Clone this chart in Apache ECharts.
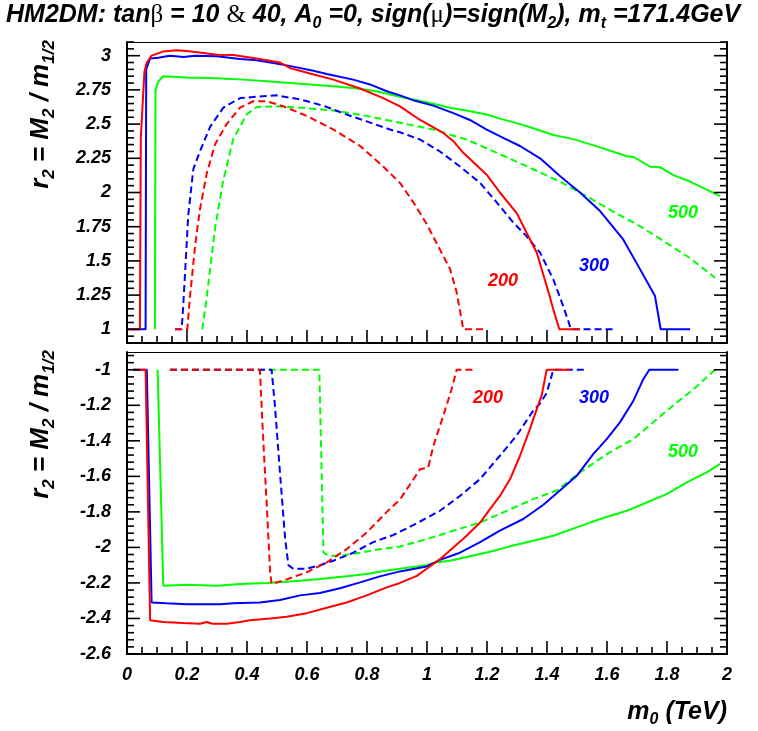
<!DOCTYPE html>
<html><head><meta charset="utf-8">
<script src="https://cdn.jsdelivr.net/npm/echarts@6/dist/echarts.min.js"></script>
<style>html,body{margin:0;padding:0;background:#fff}#c{width:758px;height:731px}</style>
</head><body><div id="c"></div>
<script>
const FONT = '"Liberation Sans", Arial, Helvetica, sans-serif';
const RED = '#ff0000', BLUE = '#0000ff', GREEN = '#00ff00';

// tick labels
const xTickLabels = [0, 0.2, 0.4, 0.6, 0.8, 1, 1.2, 1.4, 1.6, 1.8, 2];
const topYTicks = [1, 1.25, 1.5, 1.75, 2, 2.25, 2.5, 2.75, 3];
const botYTicks = [-2.6, -2.4, -2.2, -2, -1.8, -1.6, -1.4, -1.2, -1];

// ---- top panel (r2 > 0): solid = tanβ=10, dashed = tanβ=40 ; m1/2 = 200/300/500
const topSolid200 = [[0,1],[0.043,1],[0.046,2.4],[0.058,2.88],[0.066,2.95],[0.082,3.0],[0.12,3.03],[0.166,3.04],[0.2,3.035],[0.254,3.02],[0.3,3.007],[0.354,3.005],[0.432,2.98],[0.51,2.95],[0.543,2.91],[0.61,2.87],[0.688,2.825],[0.777,2.76],[0.854,2.69],[0.91,2.63],[0.977,2.53],[1.054,2.435],[1.088,2.375],[1.121,2.29],[1.199,2.13],[1.243,2.0],[1.299,1.85],[1.332,1.706],[1.366,1.56],[1.399,1.316],[1.421,1.146],[1.441,1.0],[1.51,1.0]];
const topSolid300 = [[0,1],[0.062,1],[0.064,2.9],[0.077,2.98],[0.104,2.985],[0.143,3.0],[0.188,2.99],[0.227,3.0],[0.3,2.995],[0.377,2.976],[0.432,2.966],[0.488,2.947],[0.554,2.92],[0.621,2.89],[0.666,2.866],[0.754,2.825],[0.81,2.79],[0.866,2.74],[0.91,2.71],[0.96,2.67],[1.021,2.635],[1.088,2.58],[1.143,2.53],[1.199,2.46],[1.266,2.387],[1.31,2.34],[1.377,2.25],[1.443,2.12],[1.51,2.0],[1.577,1.864],[1.654,1.657],[1.71,1.44],[1.76,1.243],[1.779,1.0],[1.877,1.0]];
const topSolid500 = [[0.093,1],[0.095,2.75],[0.104,2.81],[0.121,2.85],[0.2,2.84],[0.3,2.835],[0.388,2.825],[0.488,2.81],[0.577,2.795],[0.666,2.78],[0.754,2.764],[0.832,2.74],[0.91,2.70],[0.999,2.66],[1.077,2.62],[1.132,2.60],[1.199,2.57],[1.243,2.54],[1.31,2.50],[1.354,2.47],[1.421,2.42],[1.488,2.39],[1.577,2.33],[1.666,2.265],[1.688,2.26],[1.743,2.19],[1.777,2.185],[1.821,2.127],[1.877,2.08],[1.977,1.973]];
const topDash200 = [[0.16,1],[0.201,1],[0.21,1.24],[0.227,1.61],[0.243,1.876],[0.266,2.14],[0.293,2.35],[0.332,2.50],[0.377,2.62],[0.421,2.667],[0.466,2.667],[0.521,2.63],[0.599,2.56],[0.688,2.46],[0.777,2.34],[0.854,2.19],[0.91,2.07],[0.954,1.93],[0.999,1.77],[1.043,1.584],[1.077,1.44],[1.099,1.27],[1.121,1.0],[1.199,1.0]];
const topDash300 = [[0.16,1],[0.182,1],[0.186,1.12],[0.193,1.39],[0.204,1.83],[0.221,2.17],[0.243,2.30],[0.277,2.48],[0.321,2.62],[0.377,2.69],[0.432,2.70],[0.499,2.71],[0.577,2.68],[0.654,2.635],[0.732,2.57],[0.799,2.52],[0.877,2.46],[0.91,2.44],[0.977,2.387],[1.043,2.30],[1.11,2.19],[1.177,2.07],[1.243,1.90],[1.288,1.78],[1.332,1.68],[1.377,1.56],[1.421,1.365],[1.454,1.17],[1.477,1.02],[1.48,1.0],[1.621,1.0]];
const topDash500 = [[0.251,1],[0.266,1.24],[0.293,1.73],[0.321,2.09],[0.354,2.39],[0.399,2.57],[0.432,2.625],[0.499,2.63],[0.577,2.62],[0.688,2.60],[0.799,2.56],[0.91,2.51],[1.021,2.46],[1.132,2.387],[1.243,2.28],[1.354,2.17],[1.443,2.08],[1.532,1.973],[1.621,1.86],[1.71,1.754],[1.799,1.63],[1.877,1.52],[1.96,1.377]];

// ---- bottom panel (r2 < 0)
const botSolid200 = [[0.02,-1],[0.062,-1],[0.077,-2.41],[0.121,-2.42],[0.188,-2.426],[0.243,-2.43],[0.266,-2.42],[0.285,-2.43],[0.332,-2.43],[0.377,-2.42],[0.41,-2.41],[0.477,-2.40],[0.532,-2.39],[0.599,-2.37],[0.666,-2.34],[0.732,-2.31],[0.799,-2.27],[0.866,-2.225],[0.91,-2.2],[0.966,-2.16],[0.999,-2.12],[1.043,-2.066],[1.088,-2.0],[1.132,-1.934],[1.177,-1.86],[1.21,-1.784],[1.243,-1.71],[1.277,-1.615],[1.31,-1.484],[1.343,-1.334],[1.366,-1.22],[1.382,-1.146],[1.399,-1.0],[1.477,-1.0]];
const botSolid300 = [[0.02,-1],[0.066,-1],[0.082,-2.31],[0.132,-2.315],[0.199,-2.32],[0.266,-2.32],[0.31,-2.32],[0.354,-2.315],[0.443,-2.31],[0.51,-2.296],[0.577,-2.27],[0.643,-2.257],[0.71,-2.23],[0.777,-2.197],[0.843,-2.163],[0.91,-2.135],[0.999,-2.107],[1.043,-2.07],[1.11,-2.03],[1.177,-1.97],[1.243,-1.906],[1.321,-1.84],[1.388,-1.76],[1.443,-1.68],[1.499,-1.597],[1.554,-1.475],[1.599,-1.39],[1.643,-1.296],[1.688,-1.174],[1.721,-1.053],[1.741,-1.0],[1.838,-1.0]];
const botSolid500 = [[0.102,-1],[0.121,-2.216],[0.199,-2.21],[0.299,-2.216],[0.377,-2.206],[0.466,-2.20],[0.554,-2.19],[0.643,-2.178],[0.732,-2.163],[0.799,-2.15],[0.866,-2.13],[0.91,-2.12],[0.966,-2.107],[0.999,-2.10],[1.032,-2.084],[1.077,-2.075],[1.143,-2.05],[1.21,-2.024],[1.277,-1.994],[1.354,-1.962],[1.421,-1.934],[1.499,-1.887],[1.577,-1.84],[1.666,-1.794],[1.732,-1.747],[1.799,-1.70],[1.866,-1.634],[1.932,-1.578],[1.977,-1.53]];
const botDash200 = [[0.143,-1],[0.443,-1],[0.454,-1.39],[0.466,-1.766],[0.477,-2.14],[0.482,-2.206],[0.532,-2.18],[0.599,-2.14],[0.666,-2.084],[0.732,-2.01],[0.799,-1.916],[0.866,-1.80],[0.91,-1.73],[0.977,-1.56],[1.004,-1.55],[1.021,-1.43],[1.054,-1.26],[1.082,-1.11],[1.099,-1.0],[1.16,-1.0]];
const botDash300 = [[0.143,-1],[0.482,-1],[0.493,-1.2],[0.51,-1.58],[0.527,-1.95],[0.538,-2.10],[0.554,-2.12],[0.599,-2.12],[0.643,-2.10],[0.688,-2.075],[0.754,-2.03],[0.821,-1.97],[0.888,-1.93],[0.954,-1.875],[1.043,-1.794],[1.11,-1.71],[1.177,-1.615],[1.243,-1.484],[1.299,-1.37],[1.354,-1.23],[1.377,-1.19],[1.399,-1.13],[1.421,-1.0],[1.53,-1.0]];
const botDash500 = [[0.143,-1],[0.641,-1],[0.655,-2.03],[0.666,-2.04],[0.677,-2.047],[0.71,-2.047],[0.777,-2.03],[0.843,-2.01],[0.91,-1.995],[0.999,-1.953],[1.088,-1.906],[1.177,-1.86],[1.266,-1.794],[1.354,-1.728],[1.432,-1.68],[1.51,-1.578],[1.599,-1.475],[1.688,-1.39],[1.754,-1.296],[1.821,-1.20],[1.888,-1.11],[1.96,-1.0]];

// curve label positions (data coordinates)
const labelTexts = ['200', '300', '500'];
const topLabelPos = [[1.253, 1.35], [1.557, 1.46], [1.853, 1.847]];
const botLabelPos = [[1.203, -1.16], [1.557, -1.16], [1.853, -1.464]];
const labelColors = [RED, BLUE, GREEN];

// axis ranges
const topYRange = [0.9, 3.1], botYRange = [-2.6, -0.9], xRange = [0, 2];

const chart = echarts.init(document.getElementById('c'), null, {renderer: 'canvas'});

const tickFont = {fontFamily: FONT, fontSize: 18, fontWeight: 'bold', fontStyle: 'italic', color: '#000'};
function axLine(w) { return {show: true, onZero: false, lineStyle: {color: '#000', width: w}}; }

function xAxesFor(gi, labels) {
  return [{
    type: 'value', gridIndex: gi, min: xRange[0], max: xRange[1], interval: 0.2, position: 'bottom',
    axisLine: axLine(2), axisTick: {show: false},
    axisLabel: labels ? Object.assign({show: true, margin: 12, customValues: xTickLabels}, tickFont) : {show: false},
    splitLine: {show: false}
  }, {
    type: 'value', gridIndex: gi, min: xRange[0], max: xRange[1], position: 'top',
    axisLine: axLine(1), axisTick: {show: false}, axisLabel: {show: false}, splitLine: {show: false}
  }];
}
function yAxesFor(gi, range, majors) {
  return ['left', 'right'].map(pos => ({
    type: 'value', gridIndex: gi, min: range[0], max: range[1], position: pos,
    axisLine: axLine(2), axisTick: {show: false},
    axisLabel: pos === 'left' ? Object.assign({show: true, margin: 16, customValues: majors}, tickFont) : {show: false},
    splitLine: {show: false}
  }));
}

function line(data, color, dashed, xi, yi, z) {
  return {
    type: 'line', data: data, xAxisIndex: xi, yAxisIndex: yi, symbol: 'none', z: z,
    lineStyle: {color: color, width: 2, type: dashed ? [7, 4] : 'solid'},
    animation: false, silent: true
  };
}

const option = {
  backgroundColor: '#fff',
  animation: false,
  grid: [
    {left: 127, top: 42, width: 600, height: 301},
    {left: 127, top: 352, width: 600, height: 302}
  ],
  xAxis: [].concat(xAxesFor(0, false), xAxesFor(1, true)),
  yAxis: [].concat(yAxesFor(0, topYRange, topYTicks), yAxesFor(1, botYRange, botYTicks)),
  series: [
    line(topSolid500, GREEN, false, 0, 0, 2),
    line(topSolid300, BLUE, false, 0, 0, 3),
    line(topSolid200, RED, false, 0, 0, 4),
    line(topDash500, GREEN, true, 0, 0, 2),
    line(topDash300, BLUE, true, 0, 0, 3),
    line(topDash200, RED, true, 0, 0, 4),
    line(botSolid500, GREEN, false, 2, 2, 2),
    line(botSolid300, BLUE, false, 2, 2, 3),
    line(botSolid200, RED, false, 2, 2, 4),
    line(botDash500, GREEN, true, 2, 2, 2),
    line(botDash300, BLUE, true, 2, 2, 3),
    line(botDash200, RED, true, 2, 2, 4)
  ]
};
chart.setOption(option);

const graphics = [];

// tick marks (major + minor subdivisions), positioned through the axes' scales
function subdivide(majors, n, lo, hi) {
  const step = (majors[1] - majors[0]) / n;
  const out = [];
  const start = Math.ceil((lo - majors[0]) / step - 1e-9);
  const end = Math.floor((hi - majors[0]) / step + 1e-9);
  for (let k = start; k <= end; k++) out.push([+(majors[0] + k * step).toFixed(6), k % n === 0]);
  return out;
}
function tickLine(x1, y1, x2, y2) {
  graphics.push({type: 'line', z: 20, silent: true, shape: {x1: x1, y1: y1, x2: x2, y2: y2}, style: {stroke: '#000', lineWidth: 1.6}});
}
function addTicks(xi, yi, yRange, yMajors) {
  const finder = {xAxisIndex: xi, yAxisIndex: yi};
  subdivide(xTickLabels, 4, xRange[0], xRange[1]).forEach(t => {
    const p = chart.convertToPixel(finder, [t[0], yRange[0]]);
    const len = t[1] ? 13 : 7;
    tickLine(p[0], p[1], p[0], p[1] - len);
  });
  subdivide(yMajors, 5, yRange[0], yRange[1]).forEach(t => {
    const pl = chart.convertToPixel(finder, [xRange[0], t[0]]);
    const pr = chart.convertToPixel(finder, [xRange[1], t[0]]);
    const len = t[1] ? 13 : 7;
    tickLine(pl[0], pl[1], pl[0] + len, pl[1]);
    tickLine(pr[0], pr[1], pr[0] - len, pr[1]);
  });
}
addTicks(0, 0, topYRange, topYTicks);
addTicks(2, 2, botYRange, botYTicks);

const B = {fontFamily: FONT, fontWeight: 'bold', fontStyle: 'italic', fill: '#000'};
function richSet(size, subSize, lh) {
  return {
    b: Object.assign({}, B, {fontSize: size, lineHeight: lh, verticalAlign: 'middle'}),
    s: {fontFamily: '"Liberation Serif", "DejaVu Serif", serif', fontSize: size, fontWeight: 'normal', fontStyle: 'normal', fill: '#000', lineHeight: lh, verticalAlign: 'middle'},
    sub: Object.assign({}, B, {fontSize: subSize, lineHeight: subSize, verticalAlign: 'bottom'})
  };
}

graphics.push({
  type: 'text', x: 6, y: 15,
  style: {
    text: '{b|HM2DM: tan}{s|β}{b| = 10 }{s|&}{b| 40, A}{sub|0}{b| =0, sign(}{s|μ}{b|)=sign(M}{sub|2}{b|), m}{sub|t}{b| =171.4GeV}',
    rich: richSet(25, 16, 34), align: 'left', verticalAlign: 'middle'
  }
});
const yTitle = '{b|r}{sub|2}{b| = M}{sub|2}{b| / m}{sub|1/2}';
[[41, 114.5], [41, 424.5]].forEach(p => {
  graphics.push({
    type: 'text', x: p[0], y: p[1], rotation: Math.PI / 2,
    style: {text: yTitle, rich: richSet(26, 17, 34), align: 'center', verticalAlign: 'middle'}
  });
});
graphics.push({
  type: 'text', x: 727, y: 712,
  style: {text: '{b|m}{sub|0}{b| (TeV)}', rich: richSet(25, 16, 32), align: 'right', verticalAlign: 'middle'}
});
labelTexts.forEach((t, i) => {
  const p1 = chart.convertToPixel({xAxisIndex: 0, yAxisIndex: 0}, topLabelPos[i]);
  const p2 = chart.convertToPixel({xAxisIndex: 2, yAxisIndex: 2}, botLabelPos[i]);
  [p1, p2].forEach(p => {
    graphics.push({
      type: 'text', x: p[0], y: p[1], z: 10,
      style: Object.assign({}, B, {text: t, fontSize: 18, fill: labelColors[i], align: 'center', verticalAlign: 'middle'})
    });
  });
});
chart.setOption({graphic: graphics});
</script>
</body></html>
